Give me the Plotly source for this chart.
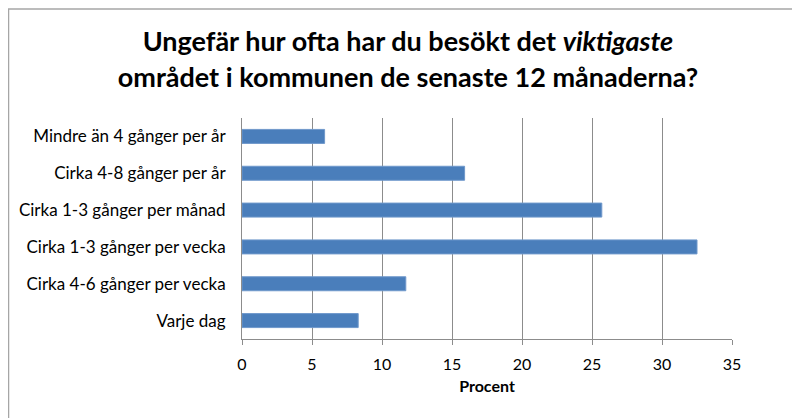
import plotly.graph_objects as go

categories = [
    "Mindre än 4 gånger per år",
    "Cirka 4-8 gånger per år",
    "Cirka 1-3 gånger per månad",
    "Cirka 1-3 gånger per vecka",
    "Cirka 4-6 gånger per vecka",
    "Varje dag",
]
values = [5.9, 15.9, 25.7, 32.5, 11.7, 8.3]
x_ticks = [0, 5, 10, 15, 20, 25, 30, 35]

font_family = "Lato, sans-serif"

fig = go.Figure()
fig.add_trace(go.Bar(
    x=values,
    y=categories,
    orientation="h",
    width=0.38,
    marker=dict(color="#4A7EBB", line=dict(color="#6F98CB", width=1)),
))

# page body has an 8px margin, so margins are shifted to land the plot area in place
fig.update_layout(
    width=800, height=418,
    margin=dict(l=234, r=76, t=110, b=87),
    paper_bgcolor="white",
    plot_bgcolor="white",
    showlegend=False,
    font=dict(family=font_family, size=16, color="#000000"),
    title=dict(
        text="<b>Ungefär hur ofta har du besökt det <i>viktigaste</i><br>området i kommunen de senaste 12 månaderna?</b>",
        x=0.5, xanchor="center",
        y=0.896, yanchor="middle",
        font=dict(family=font_family, size=27, color="#000000"),
    ),
    xaxis=dict(
        range=[0, 35],
        tickvals=x_ticks,
        showgrid=True, gridcolor="#8C8C8C", gridwidth=1,
        showline=True, linecolor="#8C8C8C", linewidth=1,
        ticks="outside", ticklen=5, tickcolor="#8C8C8C",
        ticklabelstandoff=6,
        tickfont=dict(size=16),
        zeroline=False,
        title=dict(text="<b>Procent</b>", font=dict(size=16), standoff=8),
    ),
    yaxis=dict(
        autorange="reversed",
        showline=True, linecolor="#8C8C8C", linewidth=1,
        showgrid=False,
        ticks="", ticklabelstandoff=12,
        tickfont=dict(size=17),
    ),
    shapes=[dict(
        type="rect", xref="paper", yref="paper",
        x0=-0.4765, x1=1.14, y0=-0.4, y1=1.493,
        line=dict(color="#A6A6A6", width=1.5),
        fillcolor="rgba(0,0,0,0)", layer="below",
    )],
)

fig.write_html("out.html")
